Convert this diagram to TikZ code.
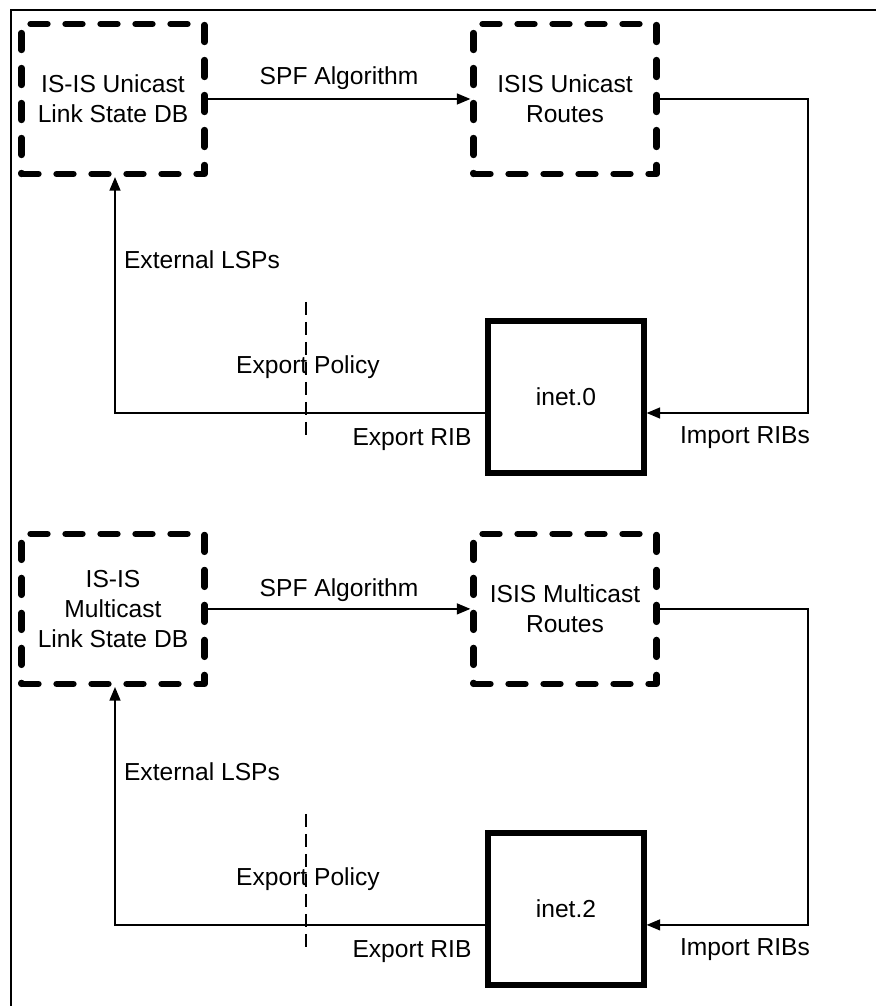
\documentclass[tikz,border=0pt]{standalone}
\usepackage{fontspec}
\setmainfont{Liberation Sans}
\usetikzlibrary{arrows.meta}

\begin{document}
\begin{tikzpicture}[x=0.02cm, y=-0.02cm,
	every node/.style={font=\fontsize{14}{17}\selectfont},
	store/.style={draw, line width=3.6pt, dash pattern=on 0.34cm off 0.36cm, line cap=round, line join=round, minimum width=3.66cm, minimum height=3.0cm, align=center, inner sep=0pt},
	ribbox/.style={draw, line width=3pt, minimum width=3.12cm, minimum height=3.04cm, inner sep=0pt},
	link/.style={line width=0.8pt, -{Triangle[length=0.27cm, width=0.22cm]}},
	policy/.style={line width=0.7pt, dash pattern=on 0.26cm off 0.14cm}]

	\useasboundingbox (0,0) rectangle (876,1006);
	\draw[line width=1.4pt] (11,1006) -- (11,10) -- (876,10);

	% unicast
	\node[store] (uni lsdb) at (113,99) {IS-IS Unicast\\Link State DB};
	\node[store] (uni routes) at (565,99) {ISIS Unicast\\Routes};
	\node[ribbox] (inet0) at (566,397) {inet.0};

	\draw[link] (uni lsdb.east) -- (uni routes.west);
	\node (uni spf) at (339,78) {SPF Algorithm};

	\coordinate (uni turn) at (808,413);
	\draw[link] (uni routes.east) -| (uni turn) -- (inet0.east |- uni turn);
	\node (uni import) at (745,438) {Import RIBs};

	\coordinate (uni exp) at (115,413);
	\draw[link] (inet0.west |- uni exp) -- (uni exp) -- (uni lsdb.south -| uni exp);
	\node (uni export) at (412,440) {Export RIB};
	\node (uni ext) at (202,260) {External LSPs};

	\draw[policy] (306,302) -- (306,435);
	\node (uni policy) at (308,367) {Export Policy};

\begin{scope}[yshift=-10.24cm]

	% multicast
	\node[store] (mul lsdb) at (113,97) {IS-IS\\Multicast\\Link State DB};
	\node[store] (mul routes) at (565,97) {ISIS Multicast\\Routes};
	\node[ribbox] (inet2) at (566,397) {inet.2};

	\draw[link] (mul lsdb.east) -- (mul routes.west);
	\node (mul spf) at (339,78) {SPF Algorithm};

	\coordinate (mul turn) at (808,413);
	\draw[link] (mul routes.east) -| (mul turn) -- (inet2.east |- mul turn);
	\node (mul import) at (745,438) {Import RIBs};

	\coordinate (mul exp) at (115,413);
	\draw[link] (inet2.west |- mul exp) -- (mul exp) -- (mul lsdb.south -| mul exp);
	\node (mul export) at (412,440) {Export RIB};
	\node (mul ext) at (202,260) {External LSPs};

	\draw[policy] (306,302) -- (306,435);
	\node (mul policy) at (308,367) {Export Policy};

\end{scope}

\end{tikzpicture}
\end{document}
